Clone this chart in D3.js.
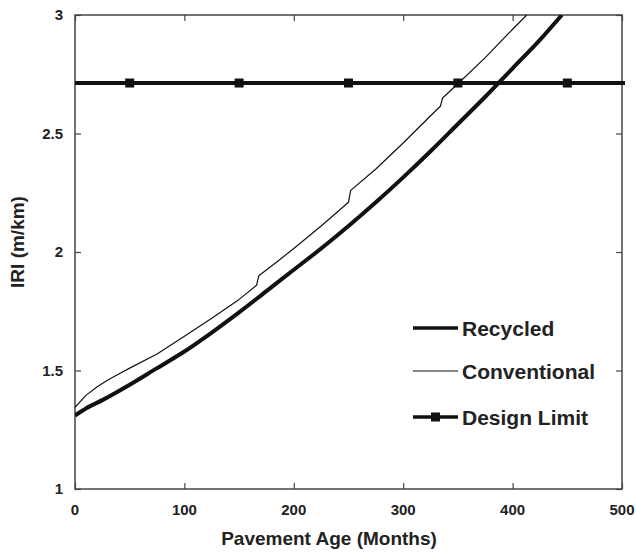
<!DOCTYPE html>
<html><head><meta charset="utf-8">
<script src="https://cdn.jsdelivr.net/npm/d3@7"></script>
<style>body{margin:0;background:#fff;} text{font-family:"Liberation Sans",Arial,sans-serif;font-weight:bold;fill:#222;}</style>
</head><body><svg id="c" width="637" height="553"></svg>
<script>
const recycledMonths = [0,10,25,50,75,100,125,150,175,200,225,250,275,300,325,350,375,400,425,445];
const recycledIRI    = [1.31,1.34,1.375,1.44,1.51,1.58,1.66,1.745,1.835,1.925,2.015,2.11,2.21,2.315,2.425,2.54,2.655,2.775,2.895,3.0];
const conventionalMonths = [0,5,10,20,30,40,50,75,100,125,150,166,168,185,200,225,250,252,275,300,325,334,336,350,375,400,413];
const conventionalIRI    = [1.345,1.37,1.395,1.43,1.46,1.485,1.51,1.57,1.645,1.72,1.80,1.86,1.90,1.96,2.015,2.11,2.21,2.26,2.35,2.46,2.575,2.615,2.65,2.71,2.82,2.94,3.0];
const designLimit = 2.713;
const designMarkers = [50,150,250,350,450];
const xTicks = [0,100,200,300,400,500];
const yTicks = [1,1.5,2,2.5,3];
const legendLabels = ["Recycled","Conventional","Design Limit"];

const svg = d3.select("#c");
const L=75,R=622,T=15,B=489;
const x = d3.scaleLinear().domain([0,500]).range([L,R]);
const y = d3.scaleLinear().domain([1,3]).range([B,T]);
const axisColor="#444";

const g = svg.append("g");
g.append("g").attr("transform",`translate(0,${B})`).call(d3.axisTop(x).tickValues(xTicks).tickSize(6).tickFormat(""));
g.append("g").attr("transform",`translate(0,${T})`).call(d3.axisBottom(x).tickValues(xTicks).tickSize(6).tickFormat(""));
g.append("g").attr("transform",`translate(${L},0)`).call(d3.axisRight(y).tickValues(yTicks).tickSize(6).tickFormat(""));
g.append("g").attr("transform",`translate(${R},0)`).call(d3.axisLeft(y).tickValues(yTicks).tickSize(6).tickFormat(""));
g.selectAll(".domain").remove();
g.selectAll(".tick line").attr("stroke",axisColor).attr("stroke-width",1.2);
svg.append("rect").attr("x",L).attr("y",T).attr("width",R-L).attr("height",B-T)
  .attr("fill","none").attr("stroke",axisColor).attr("stroke-width",1.5);

svg.selectAll(".xl").data(xTicks).enter().append("text")
  .attr("x",d=>x(d)).attr("y",B+26).attr("text-anchor","middle").attr("font-size",15).text(d=>d);
svg.selectAll(".yl").data(yTicks).enter().append("text")
  .attr("x",L-12).attr("y",d=>y(d)+5).attr("text-anchor","end").attr("font-size",15).text(d=>d);

svg.append("text").attr("x",329).attr("y",545).attr("text-anchor","middle").attr("font-size",19).text("Pavement Age (Months)");
svg.append("text").attr("transform","translate(24,242) rotate(-90)").attr("text-anchor","middle").attr("font-size",19).text("IRI (m/km)");

svg.append("clipPath").attr("id","clip").append("rect").attr("x",L).attr("y",T).attr("width",R-L).attr("height",B-T);
const smooth = d3.line().x(d=>x(d[0])).y(d=>y(d[1])).curve(d3.curveMonotoneX);
const straight = d3.line().x(d=>x(d[0])).y(d=>y(d[1]));
const plot = svg.append("g").attr("clip-path","url(#clip)");
plot.append("path").datum(conventionalMonths.map((m,i)=>[m,conventionalIRI[i]]))
  .attr("d",straight).attr("fill","none").attr("stroke","#111").attr("stroke-width",1.2).attr("stroke-linejoin","round");
plot.append("path").datum(recycledMonths.map((m,i)=>[m,recycledIRI[i]]))
  .attr("d",smooth).attr("fill","none").attr("stroke","#111").attr("stroke-width",4);
svg.append("line").attr("x1",x(0)).attr("x2",x(500)+3).attr("y1",y(designLimit)).attr("y2",y(designLimit))
  .attr("stroke","#111").attr("stroke-width",4);
svg.selectAll(".mk").data(designMarkers).enter().append("rect")
  .attr("x",d=>x(d)-4.5).attr("y",y(designLimit)-4.5).attr("width",9).attr("height",9).attr("fill","#111");

const ly=[328,371,417], lw=[3.5,1.2,3.5];
legendLabels.forEach((lab,i)=>{
  svg.append("line").attr("x1",413).attr("x2",458).attr("y1",ly[i]).attr("y2",ly[i]).attr("stroke","#111").attr("stroke-width",lw[i]);
  if(i===2) svg.append("rect").attr("x",431).attr("y",ly[i]-4.5).attr("width",9).attr("height",9).attr("fill","#111");
  svg.append("text").attr("x",462).attr("y",ly[i]+7.5).attr("font-size",21).text(lab);
});
</script></body></html>
